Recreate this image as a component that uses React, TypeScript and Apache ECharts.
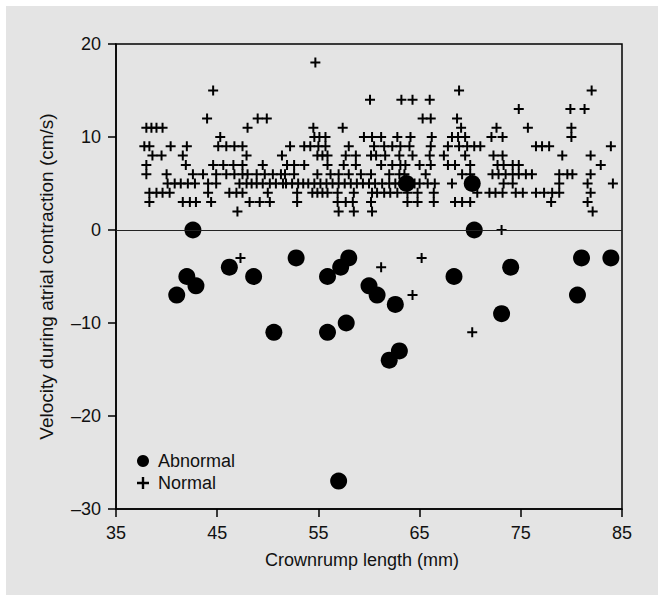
import React, { useEffect, useRef } from "react";
import * as echarts from "echarts";

const xTicks = { min: 35, max: 85, interval: 10 };
const yTicks = { min: -30, max: 20, interval: 10 };

const seriesNames = ["Abnormal", "Normal"];

const abnormal: [number, number][] = [
  [41.0, -7], [42.0, -5], [42.9, -6], [42.6, 0], [46.2, -4], [48.6, -5],
  [50.6, -11], [52.8, -3], [55.9, -5], [55.9, -11], [57.2, -4], [58.0, -3],
  [57.75, -10], [60.0, -6], [60.8, -7], [62.6, -8], [62.0, -14], [63.0, -13],
  [63.7, 5], [68.4, -5], [70.2, 5], [70.4, 0], [73.1, -9], [74.0, -4],
  [80.6, -7], [81.0, -3], [83.9, -3], [57.0, -27],
];

const normal: [number, number][] = [
  [54.7, 18],
  [44.6, 15], [68.9, 15], [82.0, 15],
  [60.1, 14], [63.2, 14], [64.3, 14], [66.0, 14],
  [74.8, 13], [79.9, 13], [81.3, 13],
  [44.0, 12], [49.0, 12], [49.9, 12], [65.3, 12], [66.1, 12], [68.7, 12],
  [38.0, 11], [38.5, 11], [39.0, 11], [39.6, 11], [48.0, 11], [54.5, 11], [57.4, 11],
  [69.1, 11], [72.6, 11], [75.7, 11], [80.0, 11],
  [45.3, 10], [54.6, 10], [55.1, 10], [55.7, 10], [59.5, 10], [60.3, 10], [61.2, 10],
  [62.8, 10], [64.1, 10], [66.2, 10], [68.2, 10], [68.8, 10], [69.5, 10], [72.1, 10],
  [73.2, 10], [80.0, 10],
  [37.8, 9], [38.3, 9], [40.4, 9], [42.0, 9], [45.1, 9], [45.9, 9], [46.7, 9], [47.5, 9],
  [52.2, 9], [53.6, 9], [54.2, 9], [55.0, 9], [55.7, 9], [58.0, 9], [60.5, 9], [61.5, 9],
  [62.3, 9], [63.1, 9], [64.0, 9], [66.1, 9], [67.8, 9], [68.9, 9], [69.7, 9], [70.4, 9],
  [71.0, 9], [76.5, 9], [77.1, 9], [77.8, 9], [83.9, 9],
  [38.6, 8], [39.5, 8], [41.6, 8], [47.9, 8], [51.4, 8], [54.9, 8], [55.4, 8], [55.9, 8],
  [57.7, 8], [58.7, 8], [60.2, 8], [60.7, 8], [61.6, 8], [63.0, 8], [64.3, 8], [66.0, 8],
  [67.4, 8], [69.5, 8], [72.3, 8], [73.2, 8], [79.1, 8], [81.9, 8],
  [38.0, 7], [41.9, 7], [44.6, 7], [45.6, 7], [46.6, 7], [47.5, 7], [49.5, 7], [51.9, 7],
  [52.6, 7], [53.6, 7], [55.9, 7], [57.5, 7], [58.7, 7], [61.2, 7], [62.3, 7], [63.1, 7],
  [63.6, 7], [65.0, 7], [66.1, 7], [67.8, 7], [68.5, 7], [70.0, 7], [72.7, 7], [73.3, 7],
  [74.2, 7], [74.8, 7], [82.9, 7],
  [38.0, 6], [40.0, 6], [42.6, 6], [43.6, 6], [44.9, 6], [45.9, 6], [46.7, 6], [47.5, 6],
  [48.0, 6], [48.9, 6], [49.7, 6], [50.5, 6], [51.3, 6], [51.7, 6], [52.6, 6], [54.9, 6],
  [56.2, 6], [57.0, 6], [58.0, 6], [59.2, 6], [60.2, 6], [62.0, 6], [63.0, 6], [63.5, 6],
  [65.6, 6], [69.2, 6], [70.0, 6], [72.2, 6], [72.8, 6], [73.5, 6], [74.2, 6], [74.8, 6],
  [75.5, 6], [76.1, 6], [78.8, 6], [79.6, 6], [80.1, 6], [81.9, 6],
  [40.1, 5], [40.8, 5], [41.4, 5], [42.1, 5], [42.8, 5], [44.1, 5], [44.9, 5], [47.2, 5],
  [47.9, 5], [48.4, 5], [48.9, 5], [49.5, 5], [50.2, 5], [50.8, 5], [51.5, 5], [51.8, 5],
  [52.4, 5], [53.0, 5], [53.5, 5], [54.0, 5], [54.6, 5], [55.2, 5], [55.8, 5], [56.4, 5],
  [57.0, 5], [57.6, 5], [58.2, 5], [58.8, 5], [59.4, 5], [60.0, 5], [60.6, 5], [61.3, 5],
  [62.0, 5], [62.6, 5], [63.2, 5], [64.0, 5], [64.5, 5], [65.0, 5], [65.8, 5], [66.5, 5],
  [68.2, 5], [73.3, 5], [74.2, 5], [78.8, 5], [81.6, 5], [84.1, 5],
  [38.3, 4], [39.0, 4], [39.6, 4], [40.3, 4], [44.1, 4], [46.2, 4], [46.9, 4], [47.5, 4],
  [50.0, 4], [52.9, 4], [54.4, 4], [54.9, 4], [55.4, 4], [55.9, 4], [56.9, 4], [58.5, 4],
  [60.3, 4], [60.8, 4], [61.5, 4], [62.1, 4], [62.8, 4], [63.8, 4], [64.8, 4], [66.4, 4],
  [70.7, 4], [71.9, 4], [72.5, 4], [73.2, 4], [74.5, 4], [75.2, 4], [76.5, 4], [77.3, 4],
  [78.1, 4], [78.8, 4], [81.9, 4],
  [38.3, 3], [41.6, 3], [42.3, 3], [42.9, 3], [44.4, 3], [48.2, 3], [49.2, 3], [50.2, 3],
  [52.9, 3], [56.9, 3], [57.7, 3], [58.4, 3], [60.2, 3], [63.8, 3], [64.8, 3], [66.4, 3],
  [68.5, 3], [69.2, 3], [70.0, 3], [78.0, 3], [81.6, 3],
  [47.0, 2], [57.0, 2], [58.5, 2], [60.3, 2], [82.1, 2],
  [73.1, 0], [47.3, -3], [61.2, -4], [65.2, -3], [64.3, -7], [70.2, -11],
];

const FONT = "'Liberation Sans', Arial, Helvetica, sans-serif";
const PLUS = "path://M4,0H6V4H10V6H6V10H4V6H0V4H4Z";

export default function App() {
  const ref = useRef<HTMLDivElement>(null);

  useEffect(() => {
    if (!ref.current) return;
    const chart = echarts.init(ref.current, undefined, { renderer: "svg" });
    const axisCommon = {
      type: "value" as const,
      nameLocation: "middle" as const,
      axisLine: { show: true, onZero: false, lineStyle: { color: "#000", width: 1.5 } },
      axisTick: { show: true, inside: false, length: 8, lineStyle: { color: "#000", width: 1.5 } },
      splitLine: { show: false },
    };
    chart.setOption({
      animation: false,
      backgroundColor: "#ffffff",
      textStyle: { fontFamily: FONT },
      graphic: [
        {
          type: "rect",
          z: -100,
          silent: true,
          shape: { x: 6, y: 6, width: 652, height: 589 },
          style: { fill: "#e4e4e4" },
        },
      ],
      grid: {
        left: 116,
        top: 44,
        width: 506,
        height: 465,
        show: true,
        borderColor: "#000",
        borderWidth: 1.5,
        backgroundColor: "transparent",
      },
      xAxis: {
        ...axisCommon,
        min: xTicks.min,
        max: xTicks.max,
        interval: xTicks.interval,
        name: "Crownrump length (mm)",
        nameGap: 42,
        nameTextStyle: { fontSize: 18, color: "#111", fontFamily: FONT, padding: [0, 14, 0, 0] },
        axisLabel: { fontSize: 18, color: "#111", margin: 15, fontFamily: FONT },
      },
      yAxis: {
        ...axisCommon,
        min: yTicks.min,
        max: yTicks.max,
        interval: yTicks.interval,
        name: "Velocity during atrial contraction (cm/s)",
        nameGap: 60,
        nameTextStyle: { fontSize: 19, color: "#111", fontFamily: FONT },
        axisLabel: {
          fontSize: 18,
          color: "#111",
          margin: 15,
          fontFamily: FONT,
          formatter: (v: number) => (v < 0 ? "\u2013" + Math.abs(v) : String(v)),
        },
      },
      legend: {
        orient: "vertical",
        left: 132,
        top: 447,
        itemWidth: 20,
        itemHeight: 12,
        itemGap: 4,
        textStyle: { fontSize: 18, color: "#111", fontFamily: FONT },
        data: [
          { name: seriesNames[0], icon: "circle", itemStyle: { opacity: 1 } },
          { name: seriesNames[1], icon: PLUS, itemStyle: { opacity: 1 } },
        ],
      },
      series: [
        {
          name: seriesNames[1],
          type: "scatter",
          data: normal,
          symbol: PLUS,
          symbolSize: 10,
          itemStyle: { color: "#000", opacity: 1 },
          markLine: {
            silent: true,
            symbol: ["none", "none"],
            label: { show: false },
            lineStyle: { color: "#222", width: 1, type: "solid" },
            data: [{ yAxis: 0 }],
          },
        },
        {
          name: seriesNames[0],
          type: "scatter",
          data: abnormal,
          symbol: "circle",
          symbolSize: 17,
          itemStyle: { color: "#000", opacity: 1 },
        },
      ],
    });
    return () => chart.dispose();
  }, []);

  return (
    <div
      ref={ref}
      style={{ position: "fixed", left: 0, top: 0, width: 664, height: 601 }}
    />
  );
}
